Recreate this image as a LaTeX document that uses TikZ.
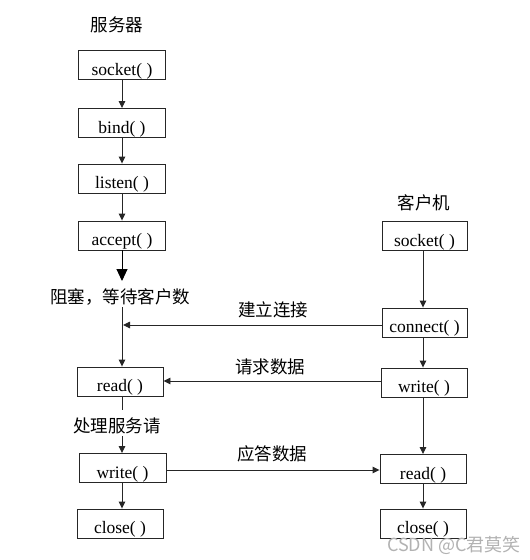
\documentclass[tikz,border=0pt]{standalone}
\usepackage{fontspec}
\setmainfont{Liberation Serif}
\newfontfamily\cjk{Noto Sans CJK SC}
\usetikzlibrary{arrows.meta}
\tikzset{
  fbox/.style={draw=black!85, line width=0.9pt, minimum width=87pt, inner xsep=0pt,
    inner ysep=2.5pt, text height=22pt, text depth=2pt, font=\fontsize{17.5}{17.5}\selectfont},
  cjklabel/.style={inner sep=1pt, font=\cjk\fontsize{17.5}{17.5}\selectfont},
  conn/.style={draw=black!85, line width=0.9pt, -{Triangle[length=7pt,width=6.5pt]}},
  bigconn/.style={draw=black, line width=1pt, -{Triangle[length=12pt,width=11pt]}},
  plain/.style={draw=black!85, line width=0.9pt},
}
\begin{document}
\begin{tikzpicture}[x=1pt,y=-1pt]
\fill[white] (0,0) rectangle (530,560);
\useasboundingbox (0,0) rectangle (530,560);
% server
\node[cjklabel] (srvt) at (117,25) {服务器};
\node[fbox] (s1) at (122,65) {socket( )};
\node[fbox] (s2) at (122,123) {bind( )};
\node[fbox] (s3) at (122,178.5) {listen( )};
\node[fbox] (s4) at (122,235.5) {accept( )};
\node[cjklabel] (blk) at (120,297) {阻塞，等待客户数};
\node[fbox, minimum width=86pt] (s5) at (120,381.5) {read( )};
\node[cjklabel] (proc) at (117,426) {处理服务请};
\node[fbox] (s6) at (122.5,468) {write( )};
\node[fbox, minimum width=86pt] (s7) at (120,523.5) {close( )};
% client
\node[cjklabel] (clit) at (424,203) {客户机};
\node[fbox, minimum width=85pt] (c1) at (424.5,236) {socket( )};
\node[fbox, minimum width=85pt] (c2) at (424.5,322.5) {connect( )};
\node[fbox, minimum width=86pt] (c3) at (424,382.5) {write( )};
\node[fbox, minimum width=86pt] (c4) at (423,469) {read( )};
\node[fbox, minimum width=86pt] (c5) at (423,523.5) {close( )};
% server flow
\draw[conn] (s1.south -| 122,0) -- (s2.north -| 122,0);
\draw[conn] (s2.south -| 122,0) -- (s3.north -| 122,0);
\draw[conn] (s3.south -| 122,0) -- (s4.north -| 122,0);
\coordinate (bt) at (122,281);
\draw[bigconn] (s4.south -| 122,0) -- (bt);
\coordinate (b1) at (122,307);
\draw[conn] (b1) -- (s5.north -| 122,0);
\coordinate (p1) at (122,410);
\draw[plain] (s5.south -| 122,0) -- (p1);
\coordinate (p2) at (122,436);
\draw[conn] (p2) -- (s6.north -| 122,0);
\draw[conn] (s6.south -| 122,0) -- (s7.north -| 122,0);
% client flow
\draw[conn] (c1.south -| 423,0) -- (c2.north -| 423,0);
\draw[conn] (c2.south -| 423,0) -- (c3.north -| 423,0);
\draw[conn] (c3.south -| 423,0) -- (c4.north -| 423,0);
\draw[conn] (c4.south -| 423,0) -- (c5.north -| 423,0);
% messages
\coordinate (m1) at (123,325);
\draw[conn] (c2.west |- 0,325) -- (m1);
\node[cjklabel] (l1) at (273,310) {建立连接};
\draw[conn] (c3.west |- 0,381) -- (s5.east |- 0,381);
\node[cjklabel] (l2) at (270,367) {请求数据};
\draw[conn] (s6.east |- 0,470) -- (c4.west |- 0,470);
\node[cjklabel] (l3) at (272,454) {应答数据};
% watermark
\node[anchor=east, text=black!30, font=\cjk\fontsize{18}{18}\selectfont, inner sep=0pt] (wm) at (521,545) {CSDN @C君莫笑};
\end{tikzpicture}
\end{document}
